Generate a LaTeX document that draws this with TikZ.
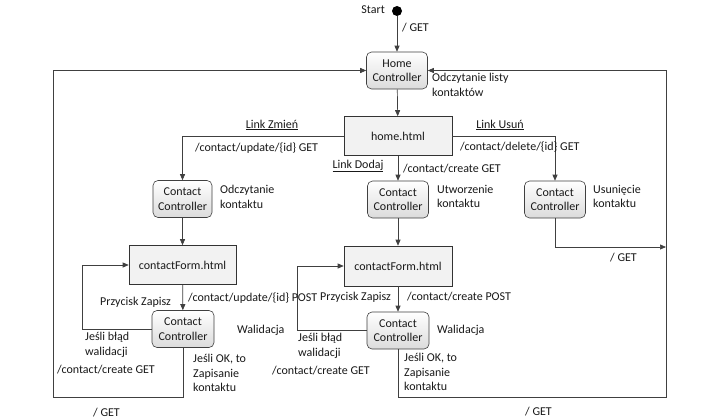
\documentclass[tikz,border=0pt]{standalone}
\usepackage{fontspec}
\setmainfont{Carlito}
\usetikzlibrary{arrows.meta}
\begin{document}
\begin{tikzpicture}[x=1pt,y=-1pt,
  every node/.style={font=\fontsize{12}{14.5}\selectfont, text=black!90},
  ctrl/.style={draw=black!75, line width=0.6pt, rounded corners=5pt, top color=white, bottom color=black!14, minimum width=61pt, minimum height=37pt, align=center, inner sep=0pt},
  page/.style={draw=black!80, line width=0.6pt, fill=black!5, minimum width=108pt, minimum height=39pt, inner sep=1pt},
  lbl/.style={align=left, inner sep=0pt, anchor=north west},
  conn/.style={draw=black!75, line width=0.7pt, -{Triangle[length=6pt,width=5pt]}},
  wire/.style={draw=black!75, line width=0.7pt}]
\useasboundingbox (0,0) rectangle (720,420);
\fill[white] (0,0) rectangle (720,420);
% nodes
\node[circle, fill=black, minimum size=10pt, inner sep=0pt] (start) at (397,11) {};
\node[ctrl] (hc) at (397,70.5) {Home\\Controller};
\node[page] (home) at (398,136) {home.html};
\node[ctrl, minimum width=59pt] (cc1) at (182.5,199) {Contact\\Controller};
\node[ctrl] (cc2) at (398,199.5) {Contact\\Controller};
\node[ctrl] (cc3) at (555,199.5) {Contact\\Controller};
\node[page, minimum width=107pt] (cf1) at (182.5,265) {contactForm.html};
\node[page, minimum height=40pt] (cf2) at (398,266) {contactForm.html};
\node[ctrl, minimum width=62pt] (cc1b) at (183,329) {Contact\\Controller};
\node[ctrl, minimum width=62pt] (cc2b) at (398,330.5) {Contact\\Controller};
% helper coordinates
\coordinate (l1) at (82,329);
\coordinate (l2) at (297,330.5);
\coordinate (r1) at (666,247);
\coordinate (rb) at (666,397);
\coordinate (rt) at (666,70.5);
\coordinate (lb) at (53,397);
\coordinate (lt) at (53,70.5);
% connectors
\draw[conn] (start) -- (hc);
\draw[conn] (hc) -- (home);
\draw[conn] (home.west) -| (cc1.north);
\draw[conn] (home.east) -| (cc3.north);
\draw[conn] (home) -- (cc2);
\draw[conn] (cc1) -- (cf1);
\draw[conn] (cc2) -- (cf2);
\draw[conn] (cf1) -- (cc1b);
\draw[conn] (cf2) -- (cc2b);
\draw[conn] (cc1b.west) -- (l1) |- (cf1.west);
\draw[conn] (cc2b.west) -- (l2) |- (cf2.west);
\draw[conn] (cc3.south) |- (r1);
\draw[conn] (cc2b.south) |- (rb) -- (rt) -- (hc.east);
\draw[conn] (cc1b.south) |- (lb) -- (lt) -- (hc.west);
% labels
\node[anchor=east, inner sep=0pt] (tstart) at (385,10) {Start};
\node[anchor=west, inner sep=0pt] (tget0) at (402,28) {/ GET};
\node[lbl] (todl) at (432,73) {Odczytanie listy\\kontaktów};
\node[anchor=center, inner sep=0pt] (tlz) at (272,125) {\underline{Link Zmień}};
\node[anchor=center, inner sep=0pt] (tlu) at (500,125) {\underline{Link Usuń}};
\node[anchor=center, inner sep=0pt] (tld) at (358,166) {\underline{Link Dodaj}};
\node[anchor=west, inner sep=0pt] (tupd) at (195,148) {/contact/update/\{id\} GET};
\node[anchor=west, inner sep=0pt] (tdel) at (460,147) {/contact/delete/\{id\} GET};
\node[anchor=west, inner sep=0pt] (tcre) at (403,169) {/contact/create GET};
\node[lbl] (todk) at (220,185) {Odczytanie\\kontaktu};
\node[lbl] (tutk) at (437,185) {Utworzenie\\kontaktu};
\node[lbl] (tusk) at (593,185) {Usunięcie\\kontaktu};
\node[anchor=west, inner sep=0pt] (tget1) at (610,258) {/ GET};
\node[anchor=west, inner sep=0pt] (tpz1) at (100,302) {Przycisk Zapisz};
\node[anchor=west, inner sep=0pt] (tpost1) at (188,298) {/contact/update/\{id\} POST};
\node[anchor=west, inner sep=0pt] (tpz2) at (320,297) {Przycisk Zapisz};
\node[anchor=west, inner sep=0pt] (tpost2) at (407,297) {/contact/create POST};
\node[lbl] (tjb1) at (85,332) {Jeśli błąd\\walidacji};
\node[anchor=west, inner sep=0pt] (tcg1) at (57,370) {/contact/create GET};
\node[lbl] (tjb2) at (298,333) {Jeśli błąd\\walidacji};
\node[anchor=west, inner sep=0pt] (tcg2) at (272,371) {/contact/create GET};
\node[anchor=west, inner sep=0pt] (twal1) at (237,330) {Walidacja};
\node[anchor=west, inner sep=0pt] (twal2) at (437,330) {Walidacja};
\node[lbl] (tok1) at (193,354) {Jeśli OK, to\\Zapisanie\\kontaktu};
\node[lbl] (tok2) at (404,353) {Jeśli OK, to\\Zapisanie\\kontaktu};
\node[anchor=west, inner sep=0pt] (tget2) at (93,413) {/ GET};
\node[anchor=west, inner sep=0pt] (tget3) at (525,412) {/ GET};
\end{tikzpicture}
\end{document}
